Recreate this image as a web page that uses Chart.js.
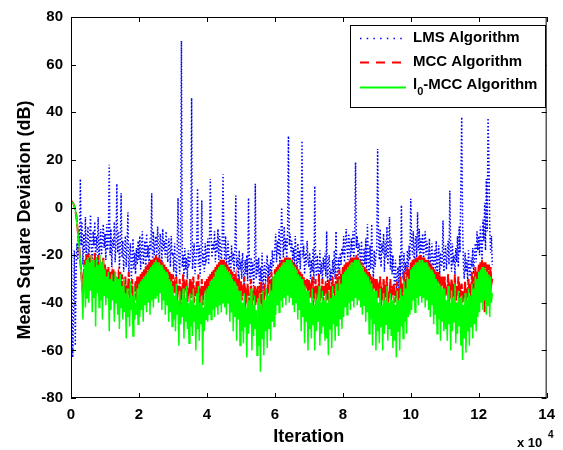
<!DOCTYPE html>
<html><head><meta charset="utf-8">
<script src="https://cdn.jsdelivr.net/npm/chart.js@4.4.0/dist/chart.umd.min.js"></script>
<style>html,body{margin:0;padding:0;background:#fff}canvas{display:block}</style>
</head><body>
<canvas id="c" width="563" height="450"></canvas>
<script>
// sample spacing along the iteration axis (units of 10^4 iterations)
const STEP = 0.025;
const xTickValues = [0, 2, 4, 6, 8, 10, 12, 14];
const yTickValues = [-80, -60, -40, -20, 0, 20, 40, 60, 80];
const seriesNames = ['LMS Algorithm', 'MCC Algorithm', 'l0-MCC Algorithm'];

// Mean square deviation (dB); one row = 0.5 x 10^4 iterations
const lmsMSD = [
  0, -30, -63, -45, -18, -58, -28, -15, -22, -9, -20, 12, -16, -6, -24, -11, -19, -4, -23, -13,
  -8, -21, -14, -3, -18, -25, -10, -16, -6, -22, -12, -19, -4, -24, -15, -9, -20, -13, -7, -17,
  -11, -22, -7, -18, -14, 18, -20, -9, -25, -13, -17, -6, -23, -15, 10, -19, -10, -26, -16, 6,
  -21, -14, -27, -18, -12, -25, -16, -2, -29, -20, -15, -30, -23, -13, -26, -19, -28, -17, -24, -14,
  -22, -12, -26, -17, -10, -24, -19, -14, -28, -11, -21, -16, -25, -13, -18, 6, -23, -10, -20, -15,
  -12, -20, -8, -17, -22, -11, -15, -24, -9, -18, -14, -21, -10, -19, -23, -13, -16, -25, -12, -20,
  -19, -27, -15, -24, -30, -18, 4, -22, -28, -16, 70, -25, -20, -29, -17, -26, -21, -30, -18, -24,
  -23, -17, 46, -26, -20, -15, -28, -22, -18, 8, -25, -16, -29, -21, 3, -24, -19, -27, -15, -22,
  -20, -13, -24, -16, 12, -11, -21, -15, -18, -10, -23, -14, -19, -9, -22, -12, -17, -24, -13, 14,
  -15, -22, -12, -26, -18, -14, -24, -20, -28, -16, -23, -19, -27, -17, 5, -25, -21, -30, -18, -26,
  -24, -30, -19, -27, -33, -22, -28, -20, -31, 4, -25, -32, -21, -29, -23, -33, -26, 10, -30, -22,
  -28, -21, -34, -25, -31, -19, -35, -27, -23, -32, -26, -20, -30, -24, -33, -22, -28, -18, -25, -21,
  -17, -11, -23, -14, -20, -9, -24, -15, 0, -12, -21, -8, -18, -13, -22, -10, 30, -16, -11, -19,
  -14, -22, -17, -25, -12, -20, -27, -15, -23, -18, -26, -13, 28, -21, -16, -28, -19, -24, -14, -22,
  -25, -19, -30, -22, -27, -17, -32, 9, -24, -29, -20, -26, -31, -18, -28, -23, -32, -21, -26, -19,
  -29, -10, -33, -24, -20, -31, -26, -34, -22, -28, -18, -30, -10, -25, -32, -21, -27, -19, -24, -17,
  -20, -12, -23, -15, -9, -18, -22, -11, -16, -24, -13, -19, -10, -21, -14, 19, -17, -12, -22, -15,
  -19, -25, -14, -22, -28, -17, -24, -13, -27, -7, -21, -29, -16, -26, -7, -23, -30, -18, -25, -20,
  -18, 24.6, -12, -22, -9, -25, -15, -19, -11, -27, -14, -21, -8, -24, -17, -4, -26, -13, -28, -20,
  -27, -33, -22, -35, -29, -25, -34, -20, -31, 1, -26, -30, -19, -28, -23, -32, -18, -25, -16, -22,
  3.7, -14, -20, -10, -23, -16, -12, -21, -2, -18, -9, -24, -13, -19, -11, -22, -15, -10, -20, -14,
  -17, -24, -13, -27, -20, -15, -29, -22, -18, -26, -14, -30, -21, -16, -28, -19, -25, -23, -5.5, -27,
  -21, -16, -26, -19, -14, -24, 7, -18, -27, -15, -22, -20, -28, -17, -23, -12, -25, -8, -19, 10,
  38, -6, -24, -30, -19, -27, -22, -31, -18, -26, -29, -21, -25, -17, -28, -20, -15, -23, -10, -18,
  -12, -20, -8, -16, -22, -5, -14, 2, -18, 12, -10, 37.6, 20, -8, -19, -12, -24
];
const mccMSD = [
  2.5, 2.5, 2, 1.5, 0.5, -1, -3, -6, -10, -14, -18, -23, -27, -32, -36, -28, -22, -30, -20, -29,
  -19, -27, -21, -25, -20, -30, -22, -26, -19, -28, -21, -33, -20, -27, -22, -29, -23, -26, -21, -31,
  -24, -31, -26, -29, -25, -35, -27, -30, -28, -33, -26, -38, -27, -31, -29, -34, -28, -30, -27, -36,
  -28, -36, -32, -34, -29, -40, -34, -35, -27, -38, -33, -36, -30, -42, -35, -35, -31, -39, -29, -34,
  -29, -35, -28, -33, -27, -37, -26, -31, -25, -34, -24, -30, -23, -32, -22, -28, -22, -30, -21, -27,
  -20, -27, -21, -29, -21, -26, -22, -30, -23, -28, -24, -32, -25, -30, -26, -34, -27, -31, -28, -35,
  -28, -36, -32, -34, -29, -39, -34, -35, -30, -41, -35, -36, -28, -38, -33, -35, -30, -40, -34, -37,
  -30, -38, -33, -35, -29, -40, -35, -36, -31, -39, -28, -46, -34, -37, -30, -41, -33, -36, -31, -39,
  -30, -37, -29, -34, -28, -36, -27, -32, -26, -35, -25, -31, -24, -33, -23, -29, -22, -31, -22, -28,
  -22, -29, -23, -31, -24, -28, -25, -32, -26, -30, -27, -34, -28, -31, -29, -36, -30, -33, -31, -37,
  -31, -39, -35, -37, -29, -42, -36, -38, -32, -40, -37, -37, -30, -43, -35, -39, -33, -41, -36, -38,
  -33, -41, -36, -38, -31, -44, -35, -39, -32, -37, -34, -40, -29, -36, -31, -38, -27, -35, -29, -33,
  -26, -32, -25, -30, -24, -33, -23, -29, -22, -31, -22, -28, -21, -30, -21, -27, -21, -29, -21, -26,
  -22, -28, -23, -30, -24, -29, -25, -32, -26, -31, -27, -34, -28, -33, -29, -37, -30, -34, -30, -36,
  -30, -38, -34, -36, -29, -41, -35, -37, -30, -39, -33, -36, -28, -42, -34, -38, -30, -40, -33, -37,
  -31, -39, -35, -37, -30, -43, -33, -38, -29, -36, -32, -40, -28, -35, -30, -37, -26, -34, -28, -33,
  -25, -32, -24, -30, -23, -33, -23, -29, -22, -31, -21, -28, -21, -30, -21, -27, -20, -29, -21, -27,
  -22, -28, -23, -30, -24, -29, -25, -33, -26, -31, -27, -35, -28, -33, -29, -38, -30, -34, -30, -37,
  -30, -38, -34, -36, -29, -41, -35, -37, -30, -40, -34, -36, -29, -43, -35, -38, -30, -39, -33, -37,
  -32, -40, -35, -38, -31, -44, -34, -38, -29, -37, -32, -41, -27, -35, -30, -37, -25, -33, -26, -32,
  -23, -30, -22, -28, -22, -31, -21, -27, -21, -29, -20, -27, -20, -28, -21, -27, -21, -29, -22, -28,
  -22, -29, -23, -31, -24, -28, -25, -33, -26, -30, -27, -35, -27, -32, -28, -37, -29, -33, -29, -36,
  -29, -37, -33, -35, -28, -40, -34, -36, -30, -39, -34, -36, -28, -42, -33, -37, -29, -38, -34, -36,
  -32, -40, -35, -38, -31, -43, -34, -38, -30, -36, -32, -40, -27, -35, -29, -36, -25, -33, -27, -31,
  -24, -30, -23, -28, -22, -31, -23, -44, -23, -29, -24, -31, -24, -30, -25, -32, -30
];
const l0mccMSD = [
  2.5, 2.5, 2, 1.5, 0.5, -1, -3, -6, -10, -14, -18, -23, -27, -35, -47, -30, -24, -42, -22, -38,
  -21, -40, -23, -35, -20, -44, -22, -38, -25, -50, -21, -36, -24, -42, -20, -39, -23, -47, -22, -37,
  -26, -41, -29, -38, -27, -52, -30, -43, -28, -39, -31, -48, -27, -40, -29, -45, -30, -51, -28, -42,
  -33, -47, -30, -44, -36, -55, -34, -46, -38, -50, -31, -43, -37, -54, -33, -47, -40, -45, -34, -49,
  -32, -46, -31, -43, -30, -48, -29, -41, -28, -44, -27, -40, -26, -45, -25, -39, -24, -42, -23, -38,
  -22, -37, -23, -40, -23, -36, -24, -43, -25, -39, -26, -45, -27, -41, -28, -48, -30, -44, -31, -50,
  -33, -47, -37, -52, -32, -45, -39, -58, -35, -49, -41, -46, -34, -55, -38, -48, -33, -51, -40, -57,
  -36, -50, -39, -54, -34, -48, -41, -60, -36, -51, -33, -56, -40, -49, -37, -66, -42, -52, -35, -47,
  -34, -48, -33, -45, -31, -47, -30, -43, -29, -46, -27, -42, -26, -45, -25, -41, -24, -44, -24, -40,
  -24, -42, -25, -45, -26, -40, -27, -48, -28, -44, -30, -52, -31, -46, -32, -56, -33, -47, -35, -58,
  -35, -52, -40, -57, -36, -50, -42, -63, -37, -53, -39, -49, -34, -60, -41, -54, -37, -51, -43, -62,
  -38, -58, -36, -69, -41, -55, -35, -62, -39, -52, -34, -59, -37, -51, -32, -56, -35, -48, -29, -50,
  -28, -45, -27, -41, -26, -44, -25, -39, -24, -42, -23, -38, -23, -41, -22, -37, -22, -40, -22, -38,
  -23, -41, -24, -44, -25, -40, -26, -47, -28, -43, -29, -52, -30, -46, -32, -57, -33, -48, -35, -60,
  -35, -51, -40, -55, -34, -49, -41, -60, -36, -52, -39, -48, -33, -58, -40, -53, -35, -50, -39, -56,
  -36, -55, -40, -62, -35, -51, -38, -59, -33, -49, -37, -56, -32, -50, -35, -54, -30, -47, -32, -51,
  -28, -46, -27, -42, -26, -45, -25, -40, -24, -43, -23, -39, -23, -42, -22, -38, -22, -41, -22, -39,
  -23, -42, -24, -45, -25, -41, -27, -48, -28, -44, -29, -53, -31, -47, -32, -58, -34, -49, -35, -60,
  -35, -52, -40, -57, -34, -50, -41, -60, -36, -53, -39, -49, -33, -56, -40, -51, -36, -54, -39, -59,
  -37, -56, -41, -63, -35, -52, -39, -60, -34, -50, -37, -55, -31, -48, -34, -53, -29, -46, -30, -45,
  -26, -43, -25, -39, -24, -44, -23, -38, -23, -41, -22, -37, -22, -40, -22, -38, -23, -42, -23, -39,
  -24, -43, -25, -46, -26, -41, -27, -49, -28, -45, -30, -53, -31, -47, -32, -56, -33, -48, -34, -52,
  -34, -51, -39, -56, -33, -49, -40, -60, -35, -52, -38, -48, -32, -57, -40, -53, -35, -50, -38, -58,
  -37, -64, -41, -55, -36, -61, -39, -52, -34, -58, -37, -50, -32, -55, -34, -49, -29, -52, -30, -46,
  -27, -44, -26, -40, -25, -43, -25, -39, -26, -45, -27, -41, -28, -46, -29, -40, -36
];

const FONT = "'Liberation Sans', Arial, Helvetica, sans-serif";
const toPoints = arr => arr.map((v, i) => ({ x: i * STEP, y: v }));

const frameAndLegend = {
  id: 'frameAndLegend',
  afterDatasetsDraw(chart) {
    const { ctx, chartArea: a, scales: { x, y } } = chart;
    ctx.save();
    ctx.strokeStyle = '#000';
    ctx.lineWidth = 1;
    ctx.setLineDash([]);
    ctx.strokeRect(a.left + 0.5, a.top + 0.5, a.right - a.left - 1, a.bottom - a.top - 1);
    const tl = 5;
    ctx.beginPath();
    xTickValues.forEach(v => {
      const px = Math.round(x.getPixelForValue(v)) + 0.5;
      ctx.moveTo(px, a.bottom); ctx.lineTo(px, a.bottom - tl);
      ctx.moveTo(px, a.top); ctx.lineTo(px, a.top + tl);
    });
    yTickValues.forEach(v => {
      const py = Math.round(y.getPixelForValue(v)) + 0.5;
      ctx.moveTo(a.left, py); ctx.lineTo(a.left + tl, py);
      ctx.moveTo(a.right, py); ctx.lineTo(a.right - tl, py);
    });
    ctx.stroke();

    // legend box
    const L = { x: 350, y: 25, w: 195, h: 82 };
    ctx.fillStyle = '#fff';
    ctx.fillRect(L.x, L.y, L.w, L.h);
    ctx.strokeRect(L.x + 0.5, L.y + 0.5, L.w, L.h);
    const rows = [38, 62, 87];
    const ds = chart.data.datasets;
    rows.forEach((ry, k) => {
      const d = ds[k];
      ctx.save();
      ctx.strokeStyle = d.borderColor;
      ctx.lineWidth = k === 0 ? 1.5 : 2;
      ctx.setLineDash(k === 0 ? [1.5, 5.2] : k === 1 ? [9, 7] : []);
      ctx.beginPath();
      ctx.moveTo(360, ry + 0.5); ctx.lineTo(406, ry + 0.5);
      ctx.stroke();
      ctx.restore();
    });
    ctx.fillStyle = '#000';
    ctx.font = `bold 15px ${FONT}`;
    ctx.textBaseline = 'middle';
    ctx.textAlign = 'left';
    ctx.fillText(seriesNames[0], 413, rows[0]);
    ctx.fillText(seriesNames[1], 413, rows[1]);
    // l0-MCC with subscript 0
    ctx.fillText('l', 413, rows[2] - 2);
    const lw = ctx.measureText('l').width;
    ctx.font = `bold 11px ${FONT}`;
    ctx.fillText('0', 413 + lw, rows[2] + 5);
    const zw = ctx.measureText('0').width;
    ctx.font = `bold 15px ${FONT}`;
    ctx.fillText('-MCC Algorithm', 413 + lw + zw, rows[2] - 2);

    // y axis title
    ctx.save();
    ctx.translate(25, 220);
    ctx.rotate(-Math.PI / 2);
    ctx.textAlign = 'center';
    ctx.font = `bold 18px ${FONT}`;
    ctx.fillText('Mean Square Deviation (dB)', 0, 0);
    ctx.restore();

    // x 10^4 multiplier
    ctx.textAlign = 'left';
    ctx.font = `bold 13px ${FONT}`;
    ctx.fillText('x 10', 517, 443);
    ctx.font = `bold 10px ${FONT}`;
    ctx.fillText('4', 548, 435);
    ctx.restore();
  }
};

new Chart(document.getElementById('c'), {
  type: 'line',
  data: {
    datasets: [
      { label: seriesNames[0], data: toPoints(lmsMSD), borderColor: '#0000ff', borderWidth: 1.5,
        borderDash: [1.5, 2], order: 2 },
      { label: seriesNames[1], data: toPoints(mccMSD), borderColor: '#ff0000', borderWidth: 2,
        borderDash: [10, 2], order: 1 },
      { label: seriesNames[2], data: toPoints(l0mccMSD), borderColor: '#00ff00', borderWidth: 1.5,
        order: 0 }
    ]
  },
  options: {
    responsive: false,
    animation: false,
    events: [],
    elements: { point: { radius: 0 }, line: { tension: 0, fill: false } },
    layout: { padding: { top: 15, right: 14, left: 0, bottom: 0 } },
    plugins: { legend: { display: false }, tooltip: { enabled: false } },
    scales: {
      x: {
        type: 'linear', min: 0, max: 14,
        afterFit: s => { s.height = 52; },
        afterBuildTicks: s => { s.ticks = xTickValues.map(v => ({ value: v })); },
        grid: { display: false, drawTicks: false },
        border: { display: false },
        ticks: { color: '#000', padding: 8, maxRotation: 0, font: { family: FONT, size: 15, weight: 'bold' } },
        title: { display: true, text: 'Iteration', color: '#000', padding: { top: 0, bottom: 2 },
                 font: { family: FONT, size: 18, weight: 'bold' } }
      },
      y: {
        type: 'linear', min: -80, max: 80,
        afterFit: s => { s.width = 71; },
        afterBuildTicks: s => { s.ticks = yTickValues.map(v => ({ value: v })); },
        grid: { display: false, drawTicks: false },
        border: { display: false },
        ticks: { color: '#000', padding: 8, font: { family: FONT, size: 15, weight: 'bold' } }
      }
    }
  },
  plugins: [frameAndLegend]
});
</script>
</body></html>
